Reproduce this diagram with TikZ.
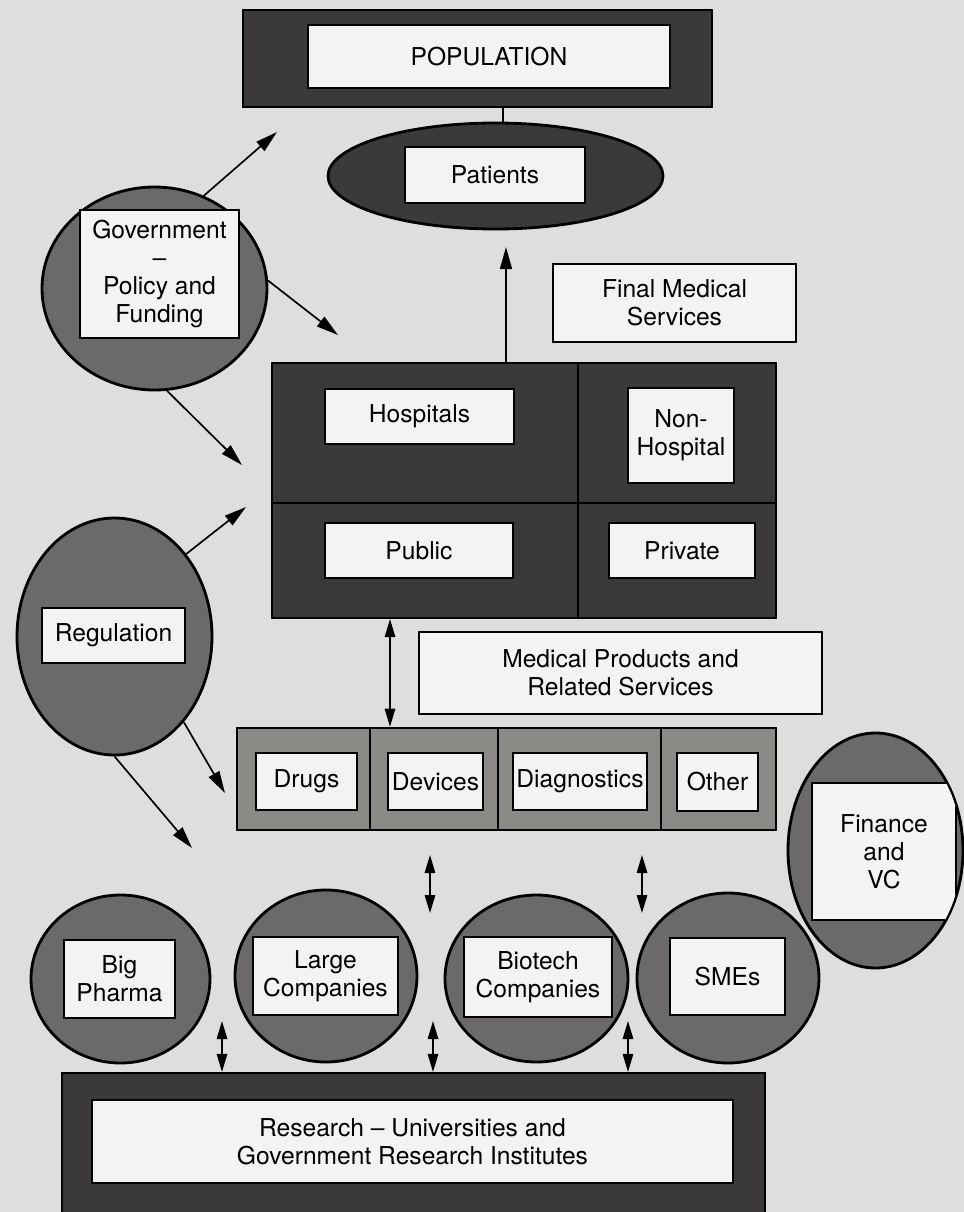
\documentclass[tikz,border=0pt]{standalone}
\usepackage{fontspec}
\setmainfont{TeX Gyre Heros}
\usetikzlibrary{shapes.geometric, arrows.meta}
\definecolor{pageColor}{RGB}{222,222,220}
\definecolor{labelColor}{RGB}{243,243,241}
\definecolor{frameColor}{RGB}{60,58,56}
\definecolor{bubbleColor}{RGB}{108,106,104}
\definecolor{stripColor}{RGB}{140,138,135}
\newcommand{\px}{0.025}
\tikzstyle{diagram} = [x = \px cm, y = -\px cm]
\tikzstyle{labelStyle} = [draw=black, fill=labelColor, line width=1.3pt, align=center, inner sep=0pt, font=\fontsize{17.5}{20}\selectfont]
\tikzstyle{frameStyle} = [draw=black, fill=frameColor, line width=1.5pt, inner sep=0pt]
\tikzstyle{stripStyle} = [draw=black, fill=stripColor, line width=1.8pt, inner sep=0pt]
\tikzstyle{bubbleStyle} = [ellipse, draw=black, fill=bubbleColor, line width=2pt, inner sep=0pt]
\tikzstyle{divider} = [color=black, line width=1.2pt]
\tikzstyle{linkLine} = [color=black, line width=1.2pt]
\tikzstyle{oneWay} = [linkLine, -{Triangle[length=5.5mm, width=3mm]}]
\tikzstyle{bothWays} = [linkLine, {Triangle[length=4.5mm, width=2.6mm]}-{Triangle[length=4.5mm, width=2.6mm]}]
\newcommand{\cornerBox}[7]{\node [#2, minimum width={(#5-#3)*\px cm}, minimum height={(#6-#4)*\px cm}] (#1) at ({(#3+#5)/2}, {(#4+#6)/2}) {#7};}

\begin{document}
\begin{tikzpicture}[diagram]
  \useasboundingbox (0,0) rectangle (964,1212);
  \fill [pageColor] (0,0) rectangle (964,1212);

  \cornerBox{popFrame}{frameStyle}{243}{10}{712}{107}{}
  \cornerBox{popLabel}{labelStyle}{308}{25}{670}{88}{POPULATION}
  \cornerBox{patients}{bubbleStyle, fill=frameColor}{328}{123}{663}{229}{}
  \cornerBox{patientsLabel}{labelStyle}{405}{147}{585}{203}{Patients}

  \cornerBox{gov}{bubbleStyle}{42}{187}{267}{390}{}
  \cornerBox{govLabel}{labelStyle}{80}{210}{239}{338}{Government\\--\\Policy and\\Funding}

  \cornerBox{finalServices}{labelStyle}{553}{264}{796}{342}{Final Medical\\Services}

  \cornerBox{hospitalBlock}{frameStyle}{272}{363}{776}{618}{}
  \draw [divider] (578,363) -- (578,618);
  \draw [divider] (272,503) -- (776,503);
  \cornerBox{hospitals}{labelStyle}{325}{389}{514}{444}{Hospitals}
  \cornerBox{nonHospital}{labelStyle}{628}{388}{734}{483}{Non-\\Hospital}
  \cornerBox{public}{labelStyle}{325}{523}{513}{578}{Public}
  \cornerBox{private}{labelStyle}{609}{523}{755}{578}{Private}

  \cornerBox{regulation}{bubbleStyle}{17}{518}{212}{755}{}
  \cornerBox{regulationLabel}{labelStyle}{42}{608}{185}{663}{Regulation}

  \cornerBox{productServices}{labelStyle}{419}{632}{822}{714}{Medical Products and\\Related Services}

  \cornerBox{strip}{stripStyle}{237}{728}{776}{830}{}
  \foreach \cut in {370, 498, 661} {
    \draw [divider] (\cut, 728) -- (\cut, 830);
  }
  \cornerBox{drugs}{labelStyle}{256}{753}{357}{810}{Drugs}
  \cornerBox{devices}{labelStyle}{388}{753}{483}{810}{Devices}
  \cornerBox{diagnostics}{labelStyle}{513}{753}{647}{810}{Diagnostics}
  \cornerBox{other}{labelStyle}{677}{753}{758}{811}{Other}

  \cornerBox{finance}{bubbleStyle}{788}{733}{963}{968}{}
  \begin{scope}
    \clip (875.5,850.5) ellipse [x radius=86.5, y radius=116.5];
    \cornerBox{financeLabel}{labelStyle}{812}{783}{956}{920}{Finance\\and\\VC}
  \end{scope}

  \cornerBox{bigPharma}{bubbleStyle}{31}{895}{210}{1063}{}
  \cornerBox{bigPharmaLabel}{labelStyle}{64}{940}{175}{1018}{Big\\Pharma}
  \cornerBox{largeCompanies}{bubbleStyle}{235}{890}{417}{1062}{}
  \cornerBox{largeCompaniesLabel}{labelStyle}{253}{937}{398}{1015}{Large\\Companies}
  \cornerBox{biotech}{bubbleStyle}{445}{895}{628}{1062}{}
  \cornerBox{biotechLabel}{labelStyle}{464}{937}{612}{1017}{Biotech\\Companies}
  \cornerBox{smes}{bubbleStyle}{637}{893}{819}{1063}{}
  \cornerBox{smesLabel}{labelStyle}{670}{938}{785}{1015}{SMEs}

  \cornerBox{researchBlock}{frameStyle}{62}{1073}{765}{1240}{}
  \cornerBox{researchLabel}{labelStyle}{92}{1100}{733}{1183}{Research -- Universities and\\Government Research Institutes}

  \coordinate (popLink) at (503,115);
  \draw [linkLine] (popFrame.south -| popLink) -- (patients.north -| popLink);
  \coordinate (patientsTip) at (506,247);
  \draw [oneWay] (hospitalBlock.north -| patientsTip) -- (patientsTip);

  \coordinate (govTipA) at (277,132);
  \coordinate (govTipB) at (338,335);
  \coordinate (govTipC) at (242,465);
  \draw [oneWay] (gov.62) -- (govTipA);
  \draw [oneWay] (gov.4) -- (govTipB);
  \draw [oneWay] (gov.-83) -- (govTipC);

  \coordinate (regTipA) at (246,507);
  \coordinate (regTipB) at (225,793);
  \coordinate (regTipC) at (192,848);
  \draw [oneWay] (regulation.49) -- (regTipA);
  \draw [oneWay] (regulation.-51) -- (regTipB);
  \draw [oneWay] (regulation.-90) -- (regTipC);

  \coordinate (productLink) at (390,670);
  \draw [bothWays] (hospitalBlock.south -| productLink) -- (strip.north -| productLink);

  \foreach \xLink [count=\i] in {430, 642} {
    \coordinate (marketTop\i) at (\xLink, 855);
    \coordinate (marketBottom\i) at (\xLink, 913);
    \draw [bothWays] (marketTop\i) -- (marketBottom\i);
  }

  \foreach \xLink [count=\i] in {222, 433, 628} {
    \coordinate (researchLink\i) at (\xLink, 1021);
    \draw [bothWays] (researchLink\i) -- (researchBlock.north -| researchLink\i);
  }
\end{tikzpicture}
\end{document}
